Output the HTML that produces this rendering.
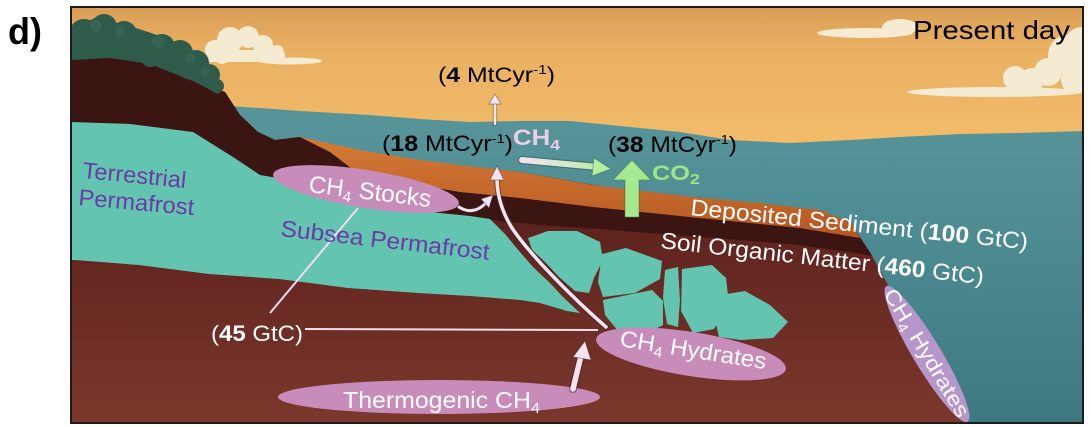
<!DOCTYPE html>
<html><head><meta charset="utf-8">
<style>
html,body{margin:0;padding:0;background:#fff;}
svg{display:block;}
text{font-family:"Liberation Sans",Arial,sans-serif;}
</style></head><body>
<svg width="1092" height="427" viewBox="0 0 1092 427" xmlns="http://www.w3.org/2000/svg">
<defs>
  <linearGradient id="sky" x1="0" y1="7" x2="0" y2="140" gradientUnits="userSpaceOnUse">
    <stop offset="0" stop-color="#d89e57"/>
    <stop offset="0.3" stop-color="#e9b062"/>
    <stop offset="1" stop-color="#f1bb68"/>
  </linearGradient>
  <linearGradient id="sea" x1="0" y1="125" x2="0" y2="425" gradientUnits="userSpaceOnUse">
    <stop offset="0" stop-color="#56949a"/>
    <stop offset="0.45" stop-color="#4b8990"/>
    <stop offset="1" stop-color="#3d7880"/>
  </linearGradient>
  <linearGradient id="soil" x1="0" y1="140" x2="0" y2="425" gradientUnits="userSpaceOnUse">
    <stop offset="0" stop-color="#4a1a15"/>
    <stop offset="0.4" stop-color="#632620"/>
    <stop offset="1" stop-color="#7b382c"/>
  </linearGradient>
  <linearGradient id="orange" x1="0" y1="140" x2="0" y2="235" gradientUnits="userSpaceOnUse">
    <stop offset="0" stop-color="#d47a36"/>
    <stop offset="1" stop-color="#b65822"/>
  </linearGradient>
  <linearGradient id="harrow" x1="522" y1="0" x2="610" y2="0" gradientUnits="userSpaceOnUse">
    <stop offset="0" stop-color="#f4e2f0"/>
    <stop offset="1" stop-color="#b6eea2"/>
  </linearGradient>
  <clipPath id="frame"><rect x="71" y="7" width="1012" height="416"/></clipPath>
</defs>

<text x="8" y="44" font-size="37" font-weight="bold" textLength="34" lengthAdjust="spacingAndGlyphs" fill="#000">d)</text>

<g clip-path="url(#frame)">
  <!-- sky -->
  <rect x="71" y="7" width="1012" height="416" fill="url(#sky)"/>
  <!-- clouds -->
  <g fill="#f5ead2">
    <circle cx="215" cy="50" r="10"/><circle cx="230" cy="40" r="13"/><circle cx="248" cy="37" r="11"/>
    <circle cx="263" cy="45" r="10"/><circle cx="277" cy="52" r="7"/><circle cx="222" cy="56" r="8"/>
    <rect x="205" y="50" width="80" height="12" rx="5"/>
    <ellipse cx="290" cy="61" rx="32" ry="3.5"/>
    <ellipse cx="865" cy="33" rx="48" ry="5"/><ellipse cx="900" cy="27" rx="18" ry="8"/>
    <circle cx="1068" cy="55" r="20"/><circle cx="1082" cy="45" r="18"/><circle cx="1048" cy="72" r="14"/>
    <circle cx="1015" cy="78" r="12"/><circle cx="1032" cy="80" r="12"/><circle cx="1075" cy="80" r="14"/>
    <ellipse cx="995" cy="92" rx="88" ry="5"/>
  </g>
  <!-- sea -->
  <path fill="url(#sea)" d="M228,106 L260,108 L300,111 L370,115 L420,119 L470,122 L520,121 L570,121 L620,126 L680,132 L730,140 L790,143 L850,140 L900,137 L960,134 L1020,133 L1085,131 L1085,425 L228,425 Z"/>
  <!-- main soil -->
  <path fill="url(#soil)" d="M70,45 L225,92 L240,115 L258,132 L275,140 L300,137 L400,160 L520,172 L600,186 L700,198 L820,212 L850,222 L870,252 L888,285 L910,320 L935,365 L955,400 L966,425 L70,425 Z"/>
  <!-- dark maroon cliff + band -->
  <path fill="#3b1511" d="M70,45 L150,62 L225,92 L240,115 L258,132 L275,140 L300,137 L330,152 L360,175 L400,182 L460,192 L520,198 L593,207 L700,218 L800,228 L860,238 L872,256 L850,252 L790,244 L700,237 L600,229 L540,225 L500,221 L470,217 L430,212 L380,205 L330,195 L290,180 L260,175 L233,157 L193,132 L130,124 L70,122 Z"/>
  <!-- orange deposited sediment -->
  <path fill="url(#orange)" d="M300,137 L360,150 L420,160 L460,165 L520,172 L593,185 L650,192 L693,197 L760,203 L820,210 L850,222 L860,238 L800,228 L700,218 L593,207 L520,198 L460,192 L400,182 L360,175 L330,152 Z"/>
  <!-- trees -->
  <g fill="#2f5b4b">
    <path d="M72,28 L95,18 L130,26 L160,36 L190,48 L212,66 L224,88 L218,94 L195,82 L150,64 L110,58 L72,60 Z"/>
    <circle cx="84" cy="34" r="15"/><circle cx="104" cy="27" r="13"/><circle cx="124" cy="34" r="13"/>
    <circle cx="100" cy="46" r="12"/><circle cx="142" cy="46" r="13"/><circle cx="162" cy="47" r="13"/>
    <circle cx="180" cy="53" r="13"/><circle cx="196" cy="63" r="13"/><circle cx="209" cy="75" r="11"/>
    <circle cx="217" cy="86" r="7"/><circle cx="150" cy="58" r="9"/><circle cx="120" cy="50" r="9"/>
    <circle cx="80" cy="50" r="9"/><circle cx="188" cy="70" r="9"/>
  </g>
  <g fill="#3d6b5a" opacity="0.6">
    <circle cx="96" cy="26" r="6"/><circle cx="158" cy="42" r="6"/><circle cx="190" cy="58" r="5"/><circle cx="120" cy="32" r="5"/><circle cx="205" cy="72" r="4"/>
  </g>
  <!-- permafrost -->
  <g fill="#63c4b0">
    <path d="M70,122 L130,124 L193,132 L233,157 L260,175 L290,180 L330,195 L380,205 L430,212 L470,216 L490,219 L505,234 L520,252 L533,267 L550,283 L563,297 L580,313 L567,311 L540,303 L520,300 L470,296 L418,293 L348,288 L279,279 L209,274 L139,265 L75,260 L70,260 Z"/>
    <path d="M528,238 L548,231 L577,231 L600,242 L603,260 L594,278 L589,293 L575,291 L559,277 L545,262 L532,250 Z"/>
    <path d="M602,254 L626,248 L662,261 L660,279 L635,293 L603,297 L598,282 Z"/>
    <path d="M603,300 L652,290 L663,301 L663,325 L648,333 L618,331 L605,315 Z"/>
    <path d="M665,270 L678,267 L680,300 L678,327 L667,324 L663,298 Z"/>
    <path d="M682,269 L712,265 L726,278 L729,304 L714,329 L693,333 L681,311 Z"/>
    <path d="M715,296 L745,291 L770,305 L788,322 L773,338 L741,340 L719,337 L714,315 Z"/>
  </g>
  <!-- connector lines -->
  <g stroke="#f1dcef" stroke-width="2" fill="none">
    <line x1="305" y1="329" x2="598" y2="330"/>
    <line x1="270" y1="313" x2="358" y2="208"/>
  </g>
  <!-- ellipses -->
  <ellipse cx="366" cy="189" rx="94" ry="19" transform="rotate(9 366 189)" fill="#c88cba"/>
  <ellipse cx="691" cy="354" rx="96" ry="22" transform="rotate(9 691 354)" fill="#c88cba"/>
  <ellipse cx="439" cy="397" rx="161" ry="17" fill="#c88cba"/>
  <ellipse cx="927" cy="354" rx="79" ry="14" transform="rotate(59 927 354)" fill="#b696cb"/>

  <!-- arrows -->
  <g fill="none" stroke-linecap="round">
    <path d="M606,327 C575,300 530,255 512,228 C502,212 497,195 497,178" stroke="#3a2530" stroke-opacity="0.45" stroke-width="6"/>
    <path d="M606,327 C575,300 530,255 512,228 C502,212 497,195 497,178" stroke="#f4e4f1" stroke-width="3.5"/>
    <path d="M459,207 Q473,216 486,203" stroke="#3a2530" stroke-opacity="0.4" stroke-width="5"/>
    <path d="M459,207 Q473,216 486,203" stroke="#f4e4f1" stroke-width="3"/>
    <line x1="495" y1="124" x2="495" y2="102" stroke="#3a2530" stroke-opacity="0.35" stroke-width="4.5"/>
    <line x1="495" y1="124" x2="495" y2="102" stroke="#f4e4f1" stroke-width="2.5"/>
    <line x1="573" y1="389" x2="581" y2="356" stroke="#3a2530" stroke-opacity="0.45" stroke-width="8"/>
    <line x1="573" y1="389" x2="581" y2="356" stroke="#f4e4f1" stroke-width="5.5"/>
    <line x1="522" y1="160" x2="598" y2="167" stroke="#2a3a30" stroke-opacity="0.35" stroke-width="8.5"/>
    <line x1="522" y1="160" x2="598" y2="167" stroke="url(#harrow)" stroke-width="6"/>
  </g>
  <polygon points="497,166 490,180 504,180" fill="#f4e4f1" stroke="#3a2530" stroke-opacity="0.4" stroke-width="1"/>
  <polygon points="493,195 481,199 489,208" fill="#f4e4f1" stroke="#3a2530" stroke-opacity="0.4" stroke-width="1"/>
  <polygon points="495,94 489,104 501,104" fill="#f4e4f1" stroke="#3a2530" stroke-opacity="0.4" stroke-width="1"/>
  <polygon points="585,341 573,357 591,360" fill="#f4e4f1" stroke="#3a2530" stroke-opacity="0.45" stroke-width="1"/>
  <polygon points="611,169 594,158 592,176" fill="#b6eea2" stroke="#3a4a30" stroke-opacity="0.4" stroke-width="1"/>
  <polygon points="625,217 639,217 639,180 651,180 632,160 613,180 625,180" fill="#a6ea90" stroke="#4a7040" stroke-opacity="0.5" stroke-width="1"/>

  <!-- labels -->
  <text x="913" y="39" font-size="26" textLength="157" lengthAdjust="spacingAndGlyphs" fill="#000">Present day</text>
  <text x="438" y="82" font-size="21" textLength="117" lengthAdjust="spacingAndGlyphs" fill="#000">(<tspan font-weight="bold">4</tspan> MtCyr<tspan font-size="13" dy="-8">-1</tspan><tspan dy="8">)</tspan></text>
  <text x="382" y="151" font-size="22" textLength="131" lengthAdjust="spacingAndGlyphs" fill="#000">(<tspan font-weight="bold">18</tspan> MtCyr<tspan font-size="13" dy="-8">-1</tspan><tspan dy="8">)</tspan></text>
  <text x="513" y="145" font-size="22" font-weight="bold" textLength="47" lengthAdjust="spacingAndGlyphs" fill="#edcdec">CH<tspan font-size="15" dy="5">4</tspan></text>
  <text x="608" y="152" font-size="22" textLength="129" lengthAdjust="spacingAndGlyphs" fill="#000">(<tspan font-weight="bold">38</tspan> MtCyr<tspan font-size="13" dy="-8">-1</tspan><tspan dy="8">)</tspan></text>
  <text x="652" y="180" font-size="21" font-weight="bold" textLength="48" lengthAdjust="spacingAndGlyphs" fill="#9de585">CO<tspan font-size="15" dy="4">2</tspan></text>

  <text x="82" y="178" font-size="23" textLength="104" lengthAdjust="spacingAndGlyphs" fill="#6b3aa6" transform="rotate(5.5 82 178)">Terrestrial</text>
  <text x="78" y="205" font-size="23" textLength="116" lengthAdjust="spacingAndGlyphs" fill="#6b3aa6" transform="rotate(5 78 205)">Permafrost</text>
  <text x="280" y="236" font-size="23" textLength="210" lengthAdjust="spacingAndGlyphs" fill="#6b3aa6" transform="rotate(6.5 280 236)">Subsea Permafrost</text>

  <text x="211" y="341" font-size="22" textLength="92" lengthAdjust="spacingAndGlyphs" fill="#fff">(<tspan font-weight="bold">45</tspan> GtC)</text>
  <text x="343" y="408" font-size="23" textLength="197" lengthAdjust="spacingAndGlyphs" fill="#fff">Thermogenic CH<tspan font-size="15" dy="5">4</tspan></text>
  <text x="308" y="192" font-size="24" textLength="123" lengthAdjust="spacingAndGlyphs" fill="#fff" transform="rotate(7 308 192)">CH<tspan font-size="15" dy="5">4</tspan><tspan dy="-5"> Stocks</tspan></text>
  <text x="619" y="346" font-size="23" textLength="148" lengthAdjust="spacingAndGlyphs" fill="#fff" transform="rotate(9 619 346)">CH<tspan font-size="15" dy="5">4</tspan><tspan dy="-5"> Hydrates</tspan></text>
  <text x="883" y="294" font-size="21" textLength="146" lengthAdjust="spacingAndGlyphs" fill="#fff" transform="rotate(59 883 294)">CH<tspan font-size="14" dy="5">4</tspan><tspan dy="-5"> Hydrates</tspan></text>
  <text x="690" y="215" font-size="23" textLength="339" lengthAdjust="spacingAndGlyphs" fill="#fff" transform="rotate(5.8 690 215)">Deposited Sediment (<tspan font-weight="bold">100</tspan> GtC)</text>
  <text x="660" y="248" font-size="23" textLength="325" lengthAdjust="spacingAndGlyphs" fill="#fff" transform="rotate(6.4 660 248)">Soil Organic Matter (<tspan font-weight="bold">460</tspan> GtC)</text>
</g>
<rect x="71" y="7" width="1012" height="416" fill="none" stroke="#1e1a18" stroke-width="2"/>
</svg>
</body></html>
